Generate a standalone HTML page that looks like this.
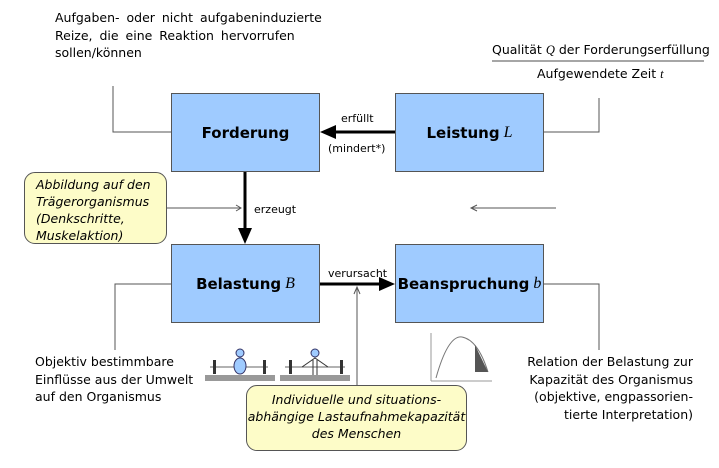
<!DOCTYPE html>
<html><head><meta charset="utf-8"><style>
body{margin:0;width:719px;height:468px;background:#fff;position:relative;overflow:hidden;font-family:"DejaVu Sans","Liberation Sans",sans-serif;color:#000}
.t{position:absolute;font-size:12.5px;line-height:17.5px;white-space:nowrap}
.box{position:absolute;width:147px;height:77px;background:#9fcbff;border:1px solid #555;display:flex;align-items:center;justify-content:center;font-weight:bold;font-size:15px}
.box i{font-family:"Liberation Serif",serif;font-weight:normal;font-size:16px;margin-left:4px}
.y{position:absolute;background:#fdfcc8;border:1px solid #555;border-radius:11px;font-style:italic;font-size:12.5px;line-height:17px}
.s{font-size:11px}
</style></head><body>
<svg width="719" height="468" style="position:absolute;left:0;top:0">
<g stroke="#555" fill="none" stroke-width="1">
<polyline points="113,86 113,132 171,132"/>
<polyline points="543,132 599,132 599,98"/>
<polyline points="171,284 115,284 115,350"/>
<polyline points="543,284 599,284 599,350"/>
<line x1="162" y1="208" x2="241" y2="208"/>
<polyline points="236,205 241,208 236,211"/>
<line x1="556" y1="208" x2="472" y2="208"/>
<polyline points="477,205 471,208 477,211"/>
<line x1="357" y1="385" x2="357" y2="288"/>
<polyline points="354,294 357,287 360,294"/>
</g>
<line x1="492" y1="61" x2="704" y2="61" stroke="#888" stroke-width="1.5"/>
<line x1="395" y1="132" x2="332" y2="132" stroke="#000" stroke-width="3"/>
<polygon points="320,132 336,125 336,139" fill="#000"/>
<line x1="245" y1="172" x2="245" y2="230" stroke="#000" stroke-width="3"/>
<polygon points="245,244 238,228 252,228" fill="#000"/>
<line x1="319" y1="284" x2="382" y2="284" stroke="#000" stroke-width="3"/>
<polygon points="395,284 379,277 379,291" fill="#000"/>
<!-- weightlifters -->
<g>
<rect x="205" y="375" width="70" height="6" fill="#999"/>
<line x1="210" y1="367" x2="268" y2="367" stroke="#666"/>
<rect x="213" y="360" width="3" height="14" fill="#333"/><rect x="263" y="360" width="3" height="14" fill="#333"/>
<circle cx="240" cy="353" r="4" fill="#9fcbff" stroke="#336"/>
<ellipse cx="240" cy="366" rx="6" ry="8" fill="#9fcbff" stroke="#336"/>
<rect x="280" y="375" width="70" height="6" fill="#999"/>
<line x1="285" y1="367" x2="345" y2="367" stroke="#666"/>
<rect x="289" y="360" width="3" height="14" fill="#333"/><rect x="340" y="360" width="3" height="14" fill="#333"/>
<circle cx="315" cy="353" r="4" fill="#9fcbff" stroke="#336"/>
<path d="M302,367 L315,358 L328,367 M313,360 V375 M317,360 V375" stroke="#333" fill="none"/>
</g>
<!-- chart -->
<g stroke="#999" fill="none">
<line x1="431" y1="333" x2="431" y2="381"/><line x1="431" y1="381" x2="492" y2="381"/>
<path d="M436,378 Q448,335 462,337 Q478,340 488,372" stroke="#777"/>
<path d="M475,345 L488,372 L475,372Z" fill="#555" stroke="none"/>
</g>
</svg>
<div class="t" style="left:55px;top:9px;word-spacing:3px">Aufgaben- oder nicht aufgabeninduzierte<br>Reize, die eine Reaktion hervorrufen<br>sollen/können</div>
<div class="t" style="left:492px;top:41px;width:212px;text-align:center">Qualität <i style="font-family:'Liberation Serif',serif">Q</i> der Forderungserfüllung</div>
<div class="t" style="left:537px;top:65px">Aufgewendete Zeit <i style="font-family:'Liberation Serif',serif">t</i></div>
<div class="box" style="left:171px;top:93px">Forderung</div>
<div class="box" style="left:395px;top:93px">Leistung<i>L</i></div>
<div class="box" style="left:171px;top:244px">Belastung<i>B</i></div>
<div class="box" style="left:395px;top:244px">Beanspruchung<i>b</i></div>
<div class="t s" style="left:341px;top:110px">erfüllt</div>
<div class="t s" style="left:328px;top:140px">(mindert*)</div>
<div class="t s" style="left:254px;top:201px">erzeugt</div>
<div class="t s" style="left:328px;top:265px">verursacht</div>
<div class="y" style="left:24px;top:172px;width:130px;height:67px;padding:3px 0 0 11px">Abbildung auf den<br>Trägerorganismus<br>(Denkschritte,<br>Muskelaktion)</div>
<div class="y" style="left:246px;top:385px;width:221px;height:66px;text-align:center;padding-top:5px;box-sizing:border-box">Individuelle und situations-<br>abhängige Lastaufnahmekapazität<br>des Menschen</div>
<div class="t" style="left:35px;top:353px">Objektiv bestimmbare<br>Einflüsse aus der Umwelt<br>auf den Organismus</div>
<div class="t" style="left:520px;top:353px;width:173px;text-align:right">Relation der Belastung zur<br>Kapazität des Organismus<br>(objektive, engpassorien-<br>tierte Interpretation)</div>
</body></html>
